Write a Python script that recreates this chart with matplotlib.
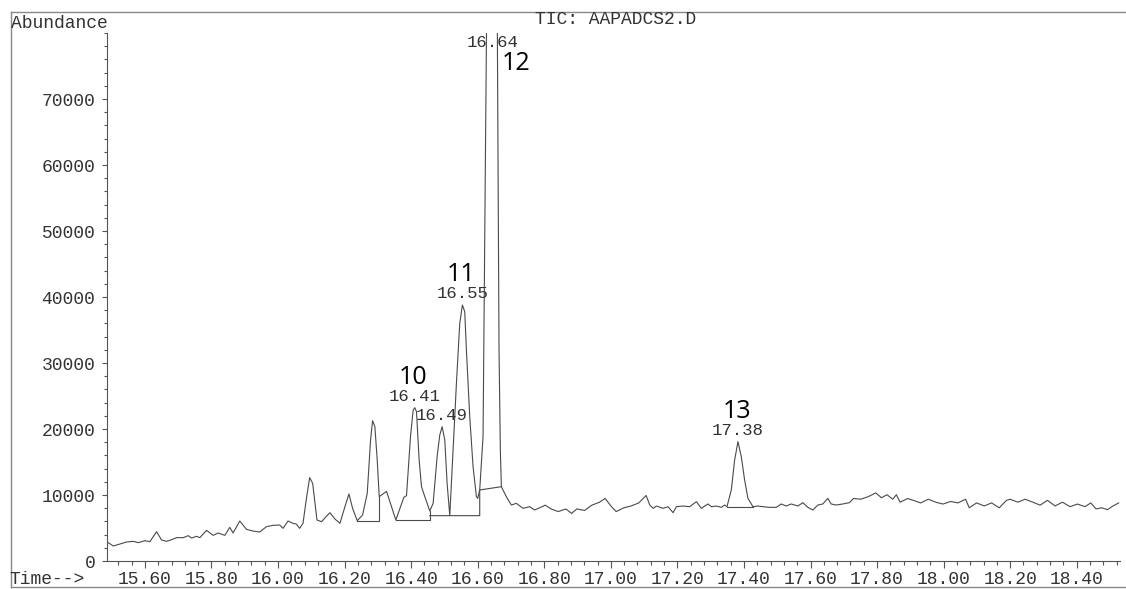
import matplotlib
matplotlib.use('Agg')
import matplotlib.pyplot as plt
import numpy as np
from matplotlib.lines import Line2D
from matplotlib.ticker import MultipleLocator, FixedLocator, FormatStrFormatter

# TIC trace (time in min, abundance)
time = [15.485, 15.505, 15.525, 15.545, 15.565, 15.580, 15.600, 15.615, 15.635, 15.650,
        15.665, 15.680, 15.695, 15.715, 15.730, 15.740, 15.755, 15.765, 15.785, 15.805,
        15.820, 15.840, 15.855, 15.865, 15.885, 15.905, 15.925, 15.945, 15.965, 15.985,
        16.005, 16.015, 16.030, 16.045, 16.055, 16.065, 16.075, 16.086, 16.095, 16.104,
        16.111, 16.117, 16.131, 16.144, 16.156, 16.171, 16.186, 16.201, 16.213, 16.224,
        16.238, 16.254, 16.268, 16.278, 16.284, 16.291, 16.298, 16.304, 16.311, 16.326,
        16.341, 16.354, 16.368, 16.378, 16.386, 16.398, 16.406, 16.411, 16.416, 16.424,
        16.431, 16.441, 16.456, 16.466, 16.478, 16.486, 16.493, 16.501, 16.508, 16.516,
        16.526, 16.536, 16.546, 16.554, 16.561, 16.566, 16.576, 16.586, 16.596, 16.600,
        16.606, 16.616, 16.628, 16.640, 16.658, 16.664, 16.668, 16.671, 16.686, 16.701,
        16.716, 16.736, 16.756, 16.771, 16.786, 16.803, 16.820, 16.842, 16.865, 16.882,
        16.898, 16.921, 16.943, 16.966, 16.983, 17.000, 17.016, 17.039, 17.061, 17.084,
        17.106, 17.117, 17.127, 17.137, 17.157, 17.172, 17.187, 17.197, 17.217, 17.237,
        17.257, 17.272, 17.282, 17.292, 17.302, 17.317, 17.332, 17.342, 17.349, 17.362,
        17.372, 17.382, 17.392, 17.402, 17.412, 17.427, 17.442, 17.457, 17.477, 17.497,
        17.512, 17.527, 17.542, 17.562, 17.577, 17.592, 17.607, 17.622, 17.637, 17.652,
        17.662, 17.677, 17.697, 17.717, 17.729, 17.751, 17.774, 17.796, 17.813, 17.830,
        17.847, 17.858, 17.869, 17.892, 17.909, 17.931, 17.954, 17.976, 17.998, 18.021,
        18.043, 18.066, 18.077, 18.099, 18.122, 18.144, 18.167, 18.189, 18.200, 18.223,
        18.245, 18.268, 18.290, 18.312, 18.335, 18.357, 18.380, 18.402, 18.425, 18.442,
        18.458, 18.475, 18.492, 18.509, 18.526]
abundance = [2930, 2270, 2575, 2880, 2980, 2780, 3080, 2930, 4440, 3180,
             2980, 3230, 3540, 3540, 3840, 3480, 3740, 3540, 4640, 3890,
             4240, 3890, 5100, 4240, 6060, 4800, 4540, 4390, 5200, 5400,
             5450, 4950, 6060, 5700, 5600, 4950, 5710, 9750, 12630, 11770,
             8740, 6210, 5960, 6710, 7320, 6360, 5710, 8230, 10150, 7980,
             6110, 6970, 10250, 18330, 21260, 20350, 15300, 9750, 10000, 10550,
             8230, 6210, 8230, 9640, 9900, 18840, 22870, 23230, 22620, 15300,
             11260, 9750, 7580, 8740, 15810, 19090, 20350, 18330, 11770, 6870,
             16820, 26920, 36010, 38780, 37770, 31970, 21870, 14290, 9750, 9490,
             10760, 18840, 90000, 98000, 90000, 31970, 16820, 11260, 9740, 8480,
             8740, 7980, 8230, 7730, 8060, 8460, 7890, 7490, 7890, 7210,
             7890, 7660, 8460, 8910, 9480, 8340, 7490, 8060, 8340, 8800,
             9930, 8480, 7980, 8330, 7980, 8230, 7320, 8230, 8330, 8230,
             8990, 7980, 8330, 8640, 8230, 8330, 8130, 8480, 8230, 10760,
             15300, 18080, 15810, 12270, 9490, 8230, 8330, 8230, 8130, 8130,
             8640, 8330, 8640, 8330, 8840, 8130, 7730, 8480, 8640, 9490,
             8640, 8480, 8640, 8840, 9470, 9360, 9760, 10320, 9590, 10040,
             9360, 10040, 8910, 9470, 9190, 8800, 9360, 8910, 8630, 9020,
             8800, 9360, 8060, 8800, 8340, 8800, 8060, 9190, 9360, 8910,
             9360, 8910, 8460, 9190, 8340, 8910, 8230, 8630, 8230, 8800,
             7890, 8060, 7780, 8340, 8800]

# integration baselines drawn under the peaks
base_segments = [
    ([16.238, 16.304, 16.304], [6110, 6110, 9750]),
    ([16.354, 16.456, 16.456], [6210, 6210, 7580]),
    ([16.456, 16.606, 16.606, 16.671], [6870, 6870, 10760, 11260]),
    ([17.349, 17.427], [8230, 8230]),
]

peak_rt = ['16.41', '16.49', '16.55', '16.64', '17.38']
peak_no = ['10', '', '11', '12', '13']

plt.rcParams['font.family'] = ['Liberation Mono', 'DejaVu Sans Mono']

W, H = 1126, 589
fig = plt.figure(figsize=(W / 100, H / 100), dpi=100)
ax = fig.add_axes([107 / W, 28 / H, 1013 / W, 528 / H])

line_col = '#4a4a4a'
text_col = '#333333'

ax.plot(time, abundance, color=line_col, lw=0.8)
for bt, bv in base_segments:
    ax.plot(bt, bv, color=line_col, lw=0.8)

ax.set_xlim(15.486, 18.53)
ax.set_ylim(0, 80000)

ax.xaxis.set_major_locator(MultipleLocator(0.2))
ax.xaxis.set_minor_locator(MultipleLocator(0.04))
ax.xaxis.set_major_formatter(FormatStrFormatter('%.2f'))
ax.yaxis.set_major_locator(FixedLocator(range(0, 70001, 10000)))
ax.yaxis.set_minor_locator(MultipleLocator(2000))

for s in ['top', 'right']:
    ax.spines[s].set_visible(False)
for s in ['left', 'bottom']:
    ax.spines[s].set_color('#555555')
    ax.spines[s].set_linewidth(0.8)

ax.tick_params(axis='both', which='both', direction='out', color='#555555',
               labelcolor=text_col, labelsize=13, width=0.8)
ax.tick_params(axis='x', which='major', length=5, pad=2)
ax.tick_params(axis='x', which='minor', length=3)
ax.tick_params(axis='y', which='major', length=3.5, pad=5)
ax.tick_params(axis='y', which='minor', length=2)

t_arr = np.array(time)
a_arr = np.array(abundance)
top = ax.get_ylim()[1]
for rt, no in zip(peak_rt, peak_no):
    t0 = float(rt)
    near = np.abs(t_arr - t0) < 0.015
    i = np.argmax(np.where(near, a_arr, -1))
    if a_arr[i] > top:
        # off-scale peak: label hangs from the top of the plot
        ax.annotate(rt, (t0, top), xytext=(1, -7), textcoords='offset points',
                    ha='center', va='center', fontsize=12.5, color=text_col)
        ax.annotate(no, (t0, top), xytext=(18, -22), textcoords='offset points',
                    ha='center', va='center', fontsize=18, color='black',
                    family=['Open Sans', 'DejaVu Sans'])
    else:
        ax.annotate(rt, (t_arr[i], a_arr[i]), xytext=(0, 8), textcoords='offset points',
                    ha='center', va='center', fontsize=12.5, color=text_col)
        if no:
            ax.annotate(no, (t_arr[i], a_arr[i]), xytext=(-1, 22), textcoords='offset points',
                        ha='center', va='center', fontsize=18, color='black',
                        family=['Open Sans', 'DejaVu Sans'])

fig.text(11 / W, 1 - 24 / H, 'Abundance', ha='left', va='center', fontsize=13, color=text_col)
fig.text(535 / W, 1 - 20 / H, 'TIC: AAPADCS2.D', ha='left', va='center', fontsize=13, color=text_col)
fig.text(9 / W, 1 - 579 / H, 'Time-->', ha='left', va='center', fontsize=13, color=text_col)

# printout frame
frame = dict(color='#888888', lw=1.0, transform=fig.transFigure)
fig.add_artist(Line2D([11 / W, 1], [1 - 12 / H, 1 - 12 / H], **frame))
fig.add_artist(Line2D([11 / W, 11 / W], [1 - 12 / H, 1 - 587 / H], **frame))
fig.add_artist(Line2D([11 / W, 1], [1 - 587 / H, 1 - 587 / H], **frame))

fig.savefig('out.png', dpi=100)
